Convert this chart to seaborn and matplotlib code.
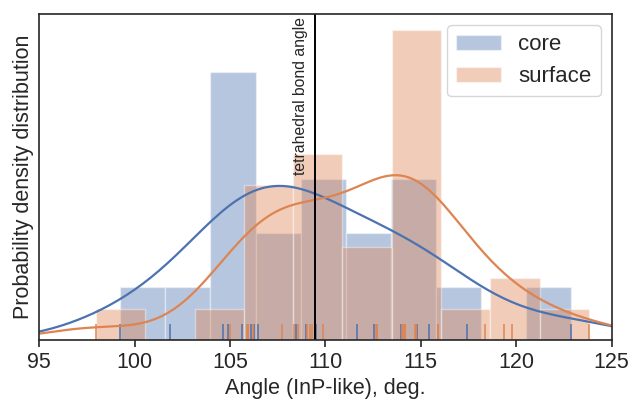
import numpy as np
import pandas as pd
import matplotlib
matplotlib.use("Agg")
import matplotlib.pyplot as plt
import seaborn as sns

# Bond angles (degrees) for the two atom populations
core_angles = [99.25, 101.87, 104.66, 104.90, 105.62, 106.10, 106.28,
               106.49, 108.44, 108.98, 109.45, 109.50, 111.66, 112.54,
               113.98, 114.80, 115.43, 117.44, 122.88]
surface_angles = [97.98, 105.00, 105.88, 105.92, 105.96, 106.20, 107.71,
                  108.35, 108.55, 109.05, 109.19, 109.28, 109.88,
                  112.64, 112.68, 112.72,
                  114.00, 114.05, 114.10, 114.15, 114.15, 114.70, 114.75,
                  114.75, 115.90, 115.90,
                  118.36, 119.34, 119.77, 123.80]
group_names = ["core", "surface"]
tetrahedral_angle = 109.47
n_bins = 10

sns.set_theme(style="ticks")
plt.rcParams["font.family"] = ["Liberation Sans", "DejaVu Sans"]

palette = sns.color_palette("deep")
fig = plt.figure(figsize=(6.3, 4.03), dpi=100)
ax = fig.add_axes([0.062, 0.156, 0.909, 0.809])

for name, values, color in zip(group_names, [core_angles, surface_angles], palette[:2]):
    data = pd.Series(values, name="angle")
    sns.histplot(x=data, bins=n_bins, stat="density", ax=ax, color=color,
                 alpha=0.4, edgecolor=(1, 1, 1, 0.4), linewidth=1.0,
                 label=name)
    sns.kdeplot(x=data, ax=ax, color=color, linewidth=1.6)
    sns.rugplot(x=data, ax=ax, color=color, height=0.048, linewidth=1.1,
                expand_margins=False)

ax.axvline(tetrahedral_angle, color="black", linewidth=1.4)
ax.text(tetrahedral_angle - 0.4, 0.0685, "tetrahedral bond angle",
        rotation=90, ha="right", va="bottom", fontsize=11.3)

ax.set_xlim(95, 125)
ax.set_xticks([95, 100, 105, 110, 115, 120, 125])
ax.set_yticks([])
ax.set_xlabel("Angle (InP-like), deg.", fontsize=15.5)
ax.set_ylabel("Probability density distribution", fontsize=15.5)
ax.tick_params(axis="x", labelsize=15.5, length=5, width=1.2)
for sp in ax.spines.values():
    sp.set_linewidth(1.2)

ax.legend(loc="upper right", fontsize=16, handlelength=2.0)

fig.savefig("out.png", dpi=100)
